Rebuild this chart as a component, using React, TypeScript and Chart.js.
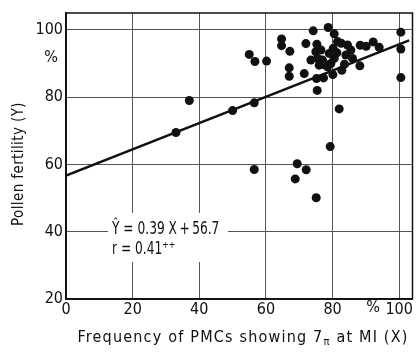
import React, { useEffect, useRef } from "react";
import { Chart, registerables } from "chart.js";

Chart.register(...registerables);

// Data
const pointX: number[] = [
  33, 37, 50, 56.5, 56.5, 55, 56.7, 60.2, 64.7, 64.7,
  67.2, 67, 67, 71.5, 72, 74.2, 75.3, 75.4, 75.2, 77.3,
  78.7, 80.5, 80.1, 82, 79.3, 69.4, 72.1, 68.8, 75.1, 75,
  76.5, 75.5, 77, 76, 77.8, 79, 80.2, 81.5, 82.6, 81.3,
  80.5, 79.5, 78.5, 83.6, 82.8, 84.5, 85.5, 84, 86, 88.2,
  88.3, 90.1, 92.2, 94, 100.5, 100.5, 100.5, 73.5,
];
const pointY: number[] = [
  69.5, 79, 76, 78.3, 58.5, 92.7, 90.6, 90.7, 97.3, 95.3,
  93.6, 88.7, 86.2, 87, 95.9, 99.7, 95.7, 82, 85.5, 85.7,
  100.7, 98.8, 86.7, 76.5, 65.3, 60.2, 58.4, 55.7, 50.1, 93.5,
  94, 91.5, 91, 89.5, 89.5, 93, 94.5, 96.5, 96, 93.2,
  91.5, 90, 89, 89.8, 88, 95.5, 94, 92.5, 91.5, 89.3,
  95.4, 95.1, 96.4, 94.8, 99.3, 94.3, 85.8, 91,
];
const regSlope = 0.39;
const regIntercept = 56.7;
const regLineX: number[] = [0, 103];
const xTicks: number[] = [0, 20, 40, 60, 80, 100];
const yTicks: number[] = [20, 40, 60, 80, 100];
const yTitle = "Pollen fertility (Y)";
const xTitleParts: string[] = ["Frequency of PMCs showing 7", "π", " at MI (X)"];
const eqLine1 = "Ŷ = 0.39 X\u2009+\u200956.7";
const eqLine2 = "r = 0.41⁺⁺";

const FONT = "'DejaVu Sans Condensed', 'Liberation Sans Narrow', 'DejaVu Sans', sans-serif";

const decorPlugin = {
  id: "decor",
  afterDraw(chart: any) {
    const ctx = chart.ctx as CanvasRenderingContext2D;
    const area = chart.chartArea;
    ctx.save();
    // frame
    ctx.strokeStyle = "#111";
    ctx.lineWidth = 1.5;
    ctx.strokeRect(area.left, area.top, area.right - area.left, area.bottom - area.top);

    // white box behind equation
    ctx.fillStyle = "#fff";
    ctx.fillRect(108, 213, 120, 49);

    ctx.fillStyle = "#111";
    ctx.textBaseline = "middle";
    ctx.textAlign = "left";
    ctx.save();
    ctx.translate(112, 0);
    ctx.scale(0.8, 1);
    ctx.font = `17px ${FONT}`;
    ctx.fillText(eqLine1, 0, 230);
    ctx.fillText(eqLine2, 0, 250);
    ctx.restore();

    // % marks
    ctx.font = `16px ${FONT}`;
    ctx.textAlign = "center";
    ctx.fillText("%", 51, 58);
    ctx.fillText("%", 373, 308);

    // y title
    ctx.save();
    ctx.translate(19, 164);
    ctx.rotate(-Math.PI / 2);
    ctx.font = `15px ${FONT}`;
    (ctx as any).letterSpacing = "0.4px";
    ctx.textAlign = "center";
    ctx.fillText(yTitle, 0, 0);
    ctx.restore();

    // x title with subscript
    const big = `16px ${FONT}`;
    const small = `11px ${FONT}`;
    ctx.textAlign = "left";
    (ctx as any).letterSpacing = "1.2px";
    ctx.font = big;
    const w0 = ctx.measureText(xTitleParts[0]).width;
    const w2 = ctx.measureText(xTitleParts[2]).width;
    ctx.font = small;
    const w1 = ctx.measureText(xTitleParts[1]).width;
    const total = w0 + w1 + w2;
    let x = 243 - total / 2;
    const y = 338;
    ctx.font = big;
    ctx.fillText(xTitleParts[0], x, y);
    x += w0;
    ctx.font = small;
    ctx.fillText(xTitleParts[1], x, y + 4);
    x += w1;
    ctx.font = big;
    ctx.fillText(xTitleParts[2], x, y);
    ctx.restore();
  },
};

export default function App() {
  const ref = useRef<HTMLCanvasElement | null>(null);
  useEffect(() => {
    if (!ref.current) return;
    const points = pointX.map((x, i) => ({ x, y: pointY[i] }));
    const reg = regLineX.map((x) => ({ x, y: regSlope * x + regIntercept }));
    const chart = new Chart(ref.current, {
      type: "scatter",
      data: {
        datasets: [
          {
            type: "line",
            data: reg,
            borderColor: "#111",
            borderWidth: 2.5,
            pointRadius: 0,
            fill: false,
          } as any,
          {
            data: points,
            backgroundColor: "#111",
            borderColor: "#111",
            pointRadius: 4.5,
            borderWidth: 0,
          },
        ],
      },
      options: {
        responsive: false,
        animation: false,
        layout: { padding: { top: 13, right: 1, left: 0, bottom: 0 } },
        plugins: { legend: { display: false }, tooltip: { enabled: false } },
        scales: {
          x: {
            type: "linear",
            min: 0,
            max: 104,
            afterFit: (s: any) => {
              s.height = 53;
            },
            afterBuildTicks: (s: any) => {
              s.ticks = xTicks.map((v) => ({ value: v }));
            },
            grid: { color: "#555", lineWidth: 1, drawTicks: false },
            border: { color: "#111", width: 1.5 },
            ticks: {
              color: "#111",
              font: { size: 16, family: FONT },
              padding: 1,
              maxRotation: 0,
            },
          },
          y: {
            type: "linear",
            min: 20,
            max: 105,
            afterFit: (s: any) => {
              s.width = 66;
            },
            afterBuildTicks: (s: any) => {
              s.ticks = yTicks.map((v) => ({ value: v }));
            },
            grid: { color: "#555", lineWidth: 1, drawTicks: false },
            border: { color: "#111", width: 1.5 },
            ticks: {
              color: "#111",
              font: { size: 16, family: FONT },
              padding: 3,
            },
          },
        },
      },
      plugins: [decorPlugin],
    });
    return () => chart.destroy();
  }, []);
  return (
    <div style={{ position: "fixed", left: 0, top: 0, width: 417, height: 352, background: "#fff" }}>
      <canvas ref={ref} width={417} height={352} />
    </div>
  );
}
